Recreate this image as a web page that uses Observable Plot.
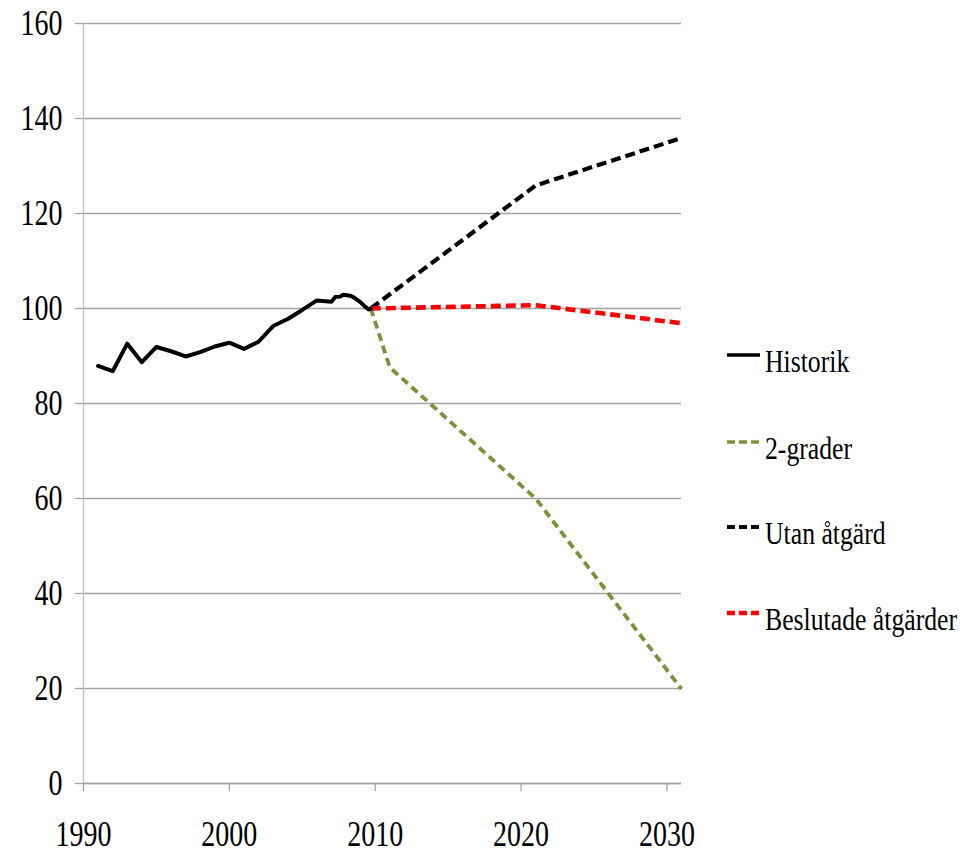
<!DOCTYPE html>
<html>
<head>
<meta charset="utf-8">
<script src="https://cdn.jsdelivr.net/npm/d3@7"></script>
<script src="https://cdn.jsdelivr.net/npm/@observablehq/plot@0.6"></script>
<style>
  html, body { margin: 0; padding: 0; background: #fff; }
  #chart { position: relative; width: 976px; height: 856px; }
</style>
</head>
<body>
<div id="chart"></div>
<script>
// ---- data ----
const histYears  = [1991,1992,1993,1994,1995,1996,1997,1998,1999,2000,2001,2002,2003,2004,2005,2006,2007,2007.25,2007.6,2007.8,2008.3,2008.5,2009,2009.3,2009.55,2009.7];
const histValues = [87.9,86.8,92.6,88.7,91.9,91.0,89.9,90.8,92.0,92.8,91.5,93.0,96.3,97.8,99.7,101.7,101.4,102.4,102.5,102.9,102.7,102.4,101.3,100.4,99.8,100.0];

const projYears      = [2009.7, 2011, 2021, 2031];
const twoDegValues   = [100.0, 87.6, 60.0, 19.9];
const noActionYears  = [2009.7, 2021, 2031];
const noActionValues = [100.0, 125.9, 135.9];
const decidedYears   = [2009.7, 2021, 2031];
const decidedValues  = [100.0, 100.7, 96.9];

const seriesNames  = ["Historik", "2-grader", "Utan åtgärd", "Beslutade åtgärder"];
const seriesColors = ["#000000", "#77933C", "#000000", "#FF0000"];
const xTicks = [1990, 2000, 2010, 2020, 2030];
const yTicks = [0, 20, 40, 60, 80, 100, 120, 140, 160];

const toRows = (xs, ys) => xs.map((x, i) => ({x, y: ys[i]}));
const hist     = toRows(histYears, histValues);
const twoDeg   = toRows(projYears, twoDegValues);
const noAction = toRows(noActionYears, noActionValues);
const decided  = toRows(decidedYears, decidedValues);

const FONT = "'Liberation Serif', 'Times New Roman', serif";
const GRID = "#a3a3a3";

const plot = Plot.plot({
  width: 976,
  height: 856,
  marginLeft: 83,
  marginRight: 295,
  marginTop: 23,
  marginBottom: 73,
  style: {fontFamily: FONT, fontSize: "35px", background: "#fff", color: "#000", overflow: "visible"},
  x: {domain: [1990, 2031], label: null},
  y: {domain: [0, 160], label: null},
  marks: [
    Plot.gridY(yTicks, {stroke: GRID, strokeOpacity: 1, strokeWidth: 1.3}),
    Plot.axisY(yTicks, {tickSize: 8, tickPadding: 13, stroke: GRID, strokeWidth: 1.3, fill: "#000", fontSize: 35, label: null, tickFormat: d => String(d)}),
    Plot.axisX(xTicks, {tickSize: 8, tickPadding: 30, stroke: GRID, strokeWidth: 1.3, fill: "#000", fontSize: 35, label: null, tickFormat: d => String(d)}),
    Plot.ruleX([1990], {stroke: "#bdbdbd", strokeWidth: 1.3}),
    Plot.ruleY([0], {stroke: GRID, strokeWidth: 1.3}),
    Plot.line(twoDeg,   {x: "x", y: "y", stroke: seriesColors[1], strokeWidth: 3.8, strokeDasharray: "8,5", strokeLinecap: "butt"}),
    Plot.line(noAction, {x: "x", y: "y", stroke: seriesColors[2], strokeWidth: 4.2, strokeDasharray: "10,5", strokeLinecap: "butt"}),
    Plot.line(decided,  {x: "x", y: "y", stroke: seriesColors[3], strokeWidth: 4.6, strokeDasharray: "10,5", strokeLinecap: "butt"}),
    Plot.line(hist,     {x: "x", y: "y", stroke: seriesColors[0], strokeWidth: 4, strokeLinejoin: "round"})
  ]
});
document.getElementById("chart").appendChild(plot);

// condensed look of the reference typography (axis labels)
plot.querySelectorAll("text").forEach(t => {
  const w = t.getComputedTextLength();
  if (w > 0) {
    t.setAttribute("textLength", (w * 0.8).toFixed(1));
    t.setAttribute("lengthAdjust", "spacingAndGlyphs");
  }
});

// ---- legend (right side) ----
const svg = d3.select(plot);
const legend = svg.append("g").attr("class", "legend").attr("text-anchor", "start");
const legendTop = [355, 442, 527, 613];
const dashes = [null, "8,4", "8,4", "8,4"];
const widths = [3.6, 3.6, 4, 4.5];
seriesNames.forEach((name, i) => {
  const y = legendTop[i];
  legend.append("line")
    .attr("x1", 727).attr("x2", 760).attr("y1", y).attr("y2", y)
    .attr("stroke", seriesColors[i]).attr("stroke-width", widths[i])
    .attr("stroke-linecap", "butt")
    .attr("stroke-dasharray", dashes[i]);
  legend.append("text")
    .attr("transform", `translate(765,${y + 17}) scale(0.83,1)`)
    .attr("text-anchor", "start")
    .attr("font-family", FONT).attr("font-size", 31).attr("fill", "#000")
    .text(name);
});
</script>
</body>
</html>
